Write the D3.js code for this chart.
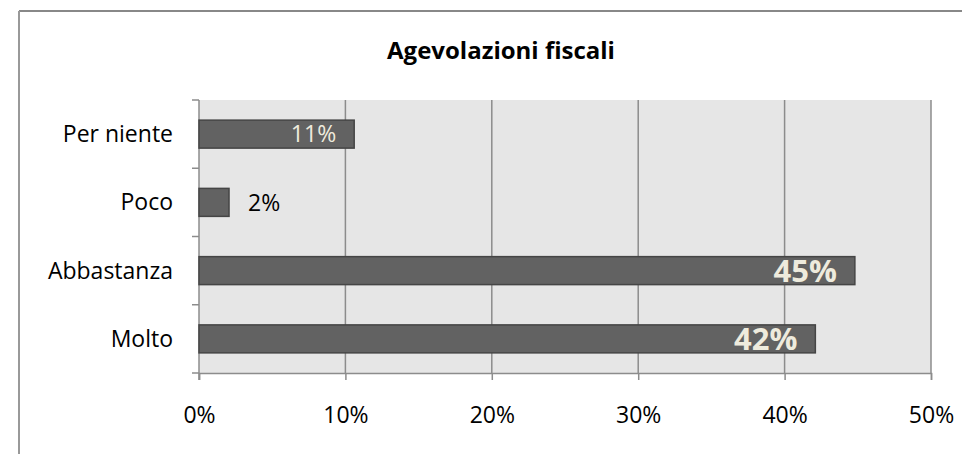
<!DOCTYPE html>
<html>
<head>
<meta charset="utf-8">
<script src="https://cdn.jsdelivr.net/npm/d3@7"></script>
<style>
  body { margin: 0; background: #fff; }
  svg text { font-family: "Open Sans", "Noto Sans", sans-serif; }
</style>
</head>
<body>
<svg id="chart"></svg>
<script>
var width = 962, height = 454;

// data
var categories = ["Per niente", "Poco", "Abbastanza", "Molto"];
var values = [0.106, 0.0205, 0.448, 0.421];
var valueLabels = ["11%", "2%", "45%", "42%"];
var xTicks = [0, 0.1, 0.2, 0.3, 0.4, 0.5];

var margin = {top: 100, right: 31, bottom: 81, left: 199};

var svg = d3.select("#chart")
    .attr("width", width)
    .attr("height", height);

// outer frame (top + left edges visible)
svg.append("line")
    .attr("x1", 19).attr("y1", 11).attr("x2", width).attr("y2", 11)
    .attr("stroke", "#888").attr("stroke-width", 2);
svg.append("line")
    .attr("x1", 19).attr("y1", 11).attr("x2", 19).attr("y2", height)
    .attr("stroke", "#999").attr("stroke-width", 2);

svg.append("text")
    .attr("x", 501)
    .attr("y", 59)
    .attr("text-anchor", "middle")
    .style("font-size", "24px")
    .style("font-weight", "bold")
    .attr("fill", "#000")
    .text("Agevolazioni fiscali");

var x = d3.scaleLinear()
    .domain([0, 0.5])
    .range([margin.left, width - margin.right]);

var y = d3.scaleBand()
    .domain(categories)
    .range([margin.top, height - margin.bottom])
    .paddingInner(0.59)
    .paddingOuter(0.295);

// plot background
svg.append("rect")
    .attr("x", x(0))
    .attr("y", margin.top)
    .attr("width", x(0.5) - x(0))
    .attr("height", height - margin.bottom - margin.top)
    .attr("fill", "#e6e6e6");

// vertical gridlines
svg.selectAll(".grid")
    .data(xTicks.slice(1))
    .enter()
    .append("line")
    .attr("class", "grid")
    .attr("x1", d => x(d)).attr("x2", d => x(d))
    .attr("y1", margin.top).attr("y2", height - margin.bottom)
    .attr("stroke", "#8c8c8c")
    .attr("stroke-width", 1.5);

// x axis
var xAxis = svg.append("g")
    .attr("transform", "translate(0," + (height - margin.bottom) + ")")
    .call(d3.axisBottom(x).tickValues(xTicks).tickFormat(d3.format(".0%")).tickSizeOuter(0).tickSize(7).tickPadding(27));
xAxis.select(".domain").attr("stroke", "#8c8c8c").attr("stroke-width", 1.5);
xAxis.selectAll(".tick line").attr("stroke", "#8c8c8c").attr("stroke-width", 1.5);
xAxis.selectAll("text").style("font-size", "23px").attr("fill", "#000");

// y axis: ticks at band boundaries
var step = y.step();
var yBounds = [margin.top].concat(categories.map(c => y(c) + y.bandwidth() / 2 + step / 2));
svg.append("line")
    .attr("x1", x(0)).attr("x2", x(0))
    .attr("y1", margin.top).attr("y2", height - margin.bottom + 7)
    .attr("stroke", "#8c8c8c").attr("stroke-width", 1.5);
svg.selectAll(".ytick")
    .data(yBounds)
    .enter()
    .append("line")
    .attr("class", "ytick")
    .attr("x1", x(0) - 7).attr("x2", x(0))
    .attr("y1", d => d).attr("y2", d => d)
    .attr("stroke", "#8c8c8c").attr("stroke-width", 1.5);

svg.selectAll(".ylabel")
    .data(categories)
    .enter()
    .append("text")
    .attr("class", "ylabel")
    .attr("x", x(0) - 26)
    .attr("y", d => y(d) + y.bandwidth() / 2)
    .attr("dy", "0.35em")
    .attr("text-anchor", "end")
    .style("font-size", "23px")
    .attr("fill", "#000")
    .text(d => d);

// bars
svg.selectAll(".bar")
    .data(values)
    .enter()
    .append("rect")
    .attr("class", "bar")
    .attr("x", x(0))
    .attr("y", (d, i) => y(categories[i]))
    .attr("width", d => x(d) - x(0))
    .attr("height", y.bandwidth())
    .attr("fill", "#626262")
    .attr("stroke", "#454545")
    .attr("stroke-width", 1.5);

// value labels
svg.selectAll(".vlabel")
    .data(values)
    .enter()
    .append("text")
    .attr("class", "vlabel")
    .attr("x", (d, i) => i == 1 ? x(d) + 19 : x(d) - 18)
    .attr("y", (d, i) => y(categories[i]) + y.bandwidth() / 2)
    .attr("dy", "0.36em")
    .attr("text-anchor", (d, i) => i == 1 ? "start" : "end")
    .style("font-size", (d, i) => i >= 2 ? "31px" : "23px")
    .style("font-weight", (d, i) => i >= 2 ? "bold" : "normal")
    .attr("fill", (d, i) => i == 1 ? "#000" : "#eeebdd")
    .text((d, i) => valueLabels[i]);
</script>
</body>
</html>
